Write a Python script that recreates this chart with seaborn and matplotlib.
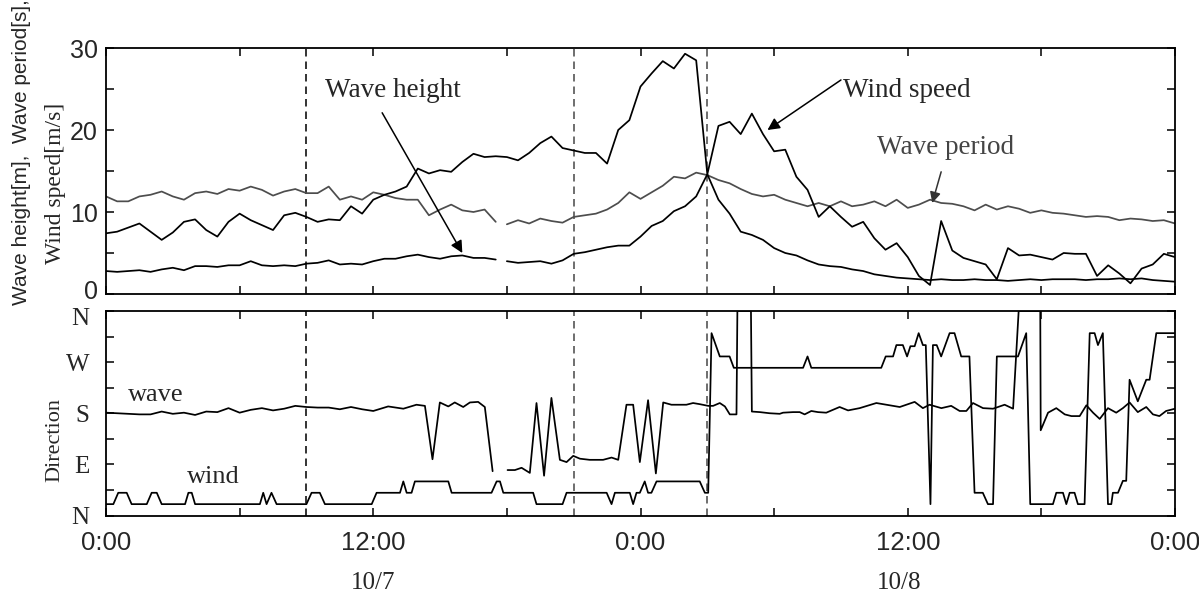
import numpy as np
import pandas as pd
import matplotlib
matplotlib.use("Agg")
import matplotlib.pyplot as plt
import seaborn as sns
from matplotlib.ticker import MultipleLocator, FixedLocator
import matplotlib.transforms as mtransforms

sns.set_theme(style="ticks")
plt.rcParams["font.family"] = ["Liberation Sans", "DejaVu Sans"]
SERIF = ["Liberation Serif", "DejaVu Serif"]
SANS = ["Liberation Sans", "DejaVu Sans"]

# ---------------- data (hours from 10/7 0:00, half-hour samples) ----------------
hours = np.arange(0, 48.01, 0.5)

wave_height = [2.8, 2.7, 2.8, 2.9, 2.7, 3.0, 3.2, 2.9, 3.4, 3.4, 3.3, 3.5, 3.5, 4.0, 3.5, 3.4,
               3.5, 3.4, 3.7, 3.8, 4.1, 3.6, 3.7, 3.6, 4.0, 4.3, 4.3, 4.6, 4.8, 4.5, 4.3, 4.6,
               4.7, 4.4, 4.4, 4.2, 4.0, 3.8, 3.9, 4.0, 3.7, 4.1, 4.9, 5.1, 5.4, 5.7, 5.9, 5.9,
               7.0, 8.3, 8.9, 10.1, 10.7, 11.9, 14.6, 11.5, 9.8, 7.6, 7.2, 6.6, 5.6, 5.0, 4.7, 4.1,
               3.6, 3.4, 3.3, 3.0, 2.8, 2.4, 2.2, 2.0, 1.9, 1.8, 1.7, 1.8, 1.7, 1.7, 1.8, 1.7,
               1.7, 1.6, 1.7, 1.8, 1.7, 1.8, 1.8, 1.8, 1.7, 1.8, 1.8, 1.9, 1.8, 1.9, 1.7, 1.6, 1.5]

wave_period = [11.9, 11.3, 11.3, 11.9, 12.1, 12.5, 11.9, 11.5, 12.3, 12.5, 12.2, 12.8, 12.6, 13.1, 12.7, 12.0,
               12.5, 12.8, 12.3, 12.3, 13.1, 11.5, 11.9, 11.5, 12.4, 12.1, 11.7, 11.5, 11.5, 9.6, 10.3, 10.9,
               10.2, 10.0, 10.3, 8.8, 8.5, 9.0, 8.6, 9.2, 8.9, 8.7, 9.4, 9.6, 9.8, 10.3, 11.1, 12.4,
               11.6, 12.4, 13.2, 14.3, 14.1, 14.8, 14.5, 13.9, 13.5, 12.8, 12.2, 11.9, 12.1, 11.5, 11.1, 10.7,
               11.1, 10.7, 11.3, 10.7, 10.9, 11.3, 10.7, 11.5, 10.5, 10.9, 11.5, 11.1, 11.0, 10.7, 10.2, 10.9,
               10.3, 10.7, 10.4, 9.9, 10.2, 9.9, 9.8, 9.6, 9.4, 9.5, 9.4, 9.0, 9.2, 9.1, 8.9, 9.0, 8.6]

wind_speed = [7.4, 7.6, 8.1, 8.6, 7.6, 6.6, 7.5, 8.8, 9.1, 7.8, 7.0, 8.8, 9.8, 9.0, 8.4, 7.8,
              9.6, 9.9, 9.4, 8.8, 9.1, 9.0, 10.7, 9.8, 11.5, 12.1, 12.5, 13.1, 15.3, 14.7, 15.1, 14.9,
              16.1, 17.1, 16.7, 16.8, 16.7, 16.3, 17.2, 18.4, 19.2, 17.8, 17.5, 17.2, 17.2, 15.9, 20.0, 21.2,
              25.3, 26.9, 28.4, 27.5, 29.3, 28.5, 14.6, 20.5, 21.0, 19.5, 22.0, 19.5, 17.4, 17.6, 14.3, 12.7,
              9.4, 10.7, 9.4, 8.2, 8.8, 6.8, 5.4, 6.2, 4.5, 2.2, 1.1, 8.9, 5.3, 4.4, 4.0, 3.6,
              1.8, 5.6, 4.7, 4.8, 4.5, 4.2, 5.0, 4.9, 4.9, 2.2, 3.5, 2.5, 1.3, 3.1, 3.6, 4.9, 4.5]

wave_gap_after = 17.6          # no wave record between ~17.5 h and 18 h

wave_dir_hours = [0, 0.5, 1, 1.5, 2, 2.5, 3, 3.5, 4, 4.5, 5, 5.5, 6, 6.5, 7, 7.5, 8, 8.5, 9, 9.5,
                  10, 10.5, 11, 11.5, 12, 12.67, 13.35, 13.94, 14.32, 14.66, 14.99, 15.37, 15.66,
                  16.04, 16.34, 16.71, 17.01, 17.36,
                  18.03, 18.36, 18.66, 19.03, 19.33, 19.67, 20.0, 20.38, 20.68, 20.98, 21.28, 21.72,
                  22.32, 22.70, 23.0, 23.37, 23.67, 23.97, 24.34, 24.69, 25.02, 25.39, 26.06, 26.36,
                  26.66, 27.04, 27.26, 27.56, 27.79, 28.01, 28.31, 28.35, 28.96, 29.0, 29.36, 29.8,
                  30.25, 30.4, 30.85, 31.15, 31.37, 31.67, 31.97, 32.34, 32.94, 33.32, 33.84, 34.59,
                  35.04, 35.64, 36.31, 36.68, 36.98, 37.51, 37.95, 38.33, 38.63, 38.93, 39.38, 39.83,
                  40.35, 40.73, 40.98, 41.95, 41.97, 42.3, 42.67, 43.05, 43.35, 43.72, 44.02, 44.32,
                  44.62, 44.99, 45.36, 45.66, 45.96, 46.33, 46.71, 47.01, 47.3, 47.6, 48.0]
wave_dir_deg = [181, 180, 179, 178, 178, 183, 179, 181, 177, 183, 182, 189, 181, 186, 189, 185, 188, 193, 191, 190,
                190, 187, 191, 187, 184, 192, 188, 195, 193, 99, 199, 192, 199,
                191, 199, 200, 191, 78,
                80, 80, 84, 75, 198, 70, 207, 98, 94, 105, 100, 98,
                98, 102, 98, 195, 195, 94, 203, 74, 199, 195, 195, 198,
                196, 193, 193, 198, 192, 178, 178, 360, 360, 183, 182, 180,
                179, 181, 182, 182, 178, 184, 182, 181, 191, 185, 189, 198,
                195, 191, 200, 189, 195, 189, 193, 184, 184, 198, 189, 188,
                195, 188, 360, 360, 150, 181, 189, 178, 175, 175, 194, 181,
                170, 189, 181, 189, 199, 182, 191, 178, 175, 184, 188]

wind_dir_hours = [0, 0.33, 0.55, 0.93, 1.15, 1.83, 2.05, 2.28, 2.5, 3.55, 3.7, 3.85, 4.0, 6.91, 7.06,
                  7.21, 7.43, 7.66, 9.0, 9.23, 9.6, 9.83, 11.93, 12.15, 13.2, 13.35, 13.5, 13.72, 13.87,
                  15.37, 15.52, 17.31, 17.54, 17.69, 17.84, 19.18, 19.33, 20.5, 20.68, 22.48, 22.7, 22.85,
                  23.52, 23.67, 23.82, 23.97, 24.19, 24.34, 24.49, 24.72, 26.66, 26.89, 27.04, 27.19,
                  27.56, 28.0, 28.19, 31.3, 31.5, 31.67, 34.81, 35.01, 35.34, 35.49, 35.78, 35.97, 36.12,
                  36.31, 36.49, 36.68, 36.81, 37.02, 37.13, 37.3, 37.5, 37.88, 38.1, 38.4, 38.77, 39.0,
                  39.37, 39.6, 39.83, 40.0, 40.95, 41.32, 41.5, 42.52, 42.67, 42.97, 43.12, 43.27, 43.49,
                  43.64, 43.94, 44.17, 44.39, 44.54, 44.76, 44.99, 45.14, 45.21, 45.44, 45.66, 45.81,
                  45.96, 46.33, 46.71, 46.86, 47.16, 47.9, 48.0]
wind_dir_deg = [20, 20, 40, 40, 20, 20, 40, 40, 20, 20, 40, 40, 20, 20, 40,
                20, 40, 20, 20, 40, 40, 20, 20, 40, 40, 60, 40, 40, 60,
                60, 40, 40, 60, 60, 40, 40, 20, 20, 40, 40, 20, 40,
                40, 20, 40, 40, 60, 40, 40, 60, 60, 40, 40, 321,
                280, 280, 260, 260, 280, 260, 260, 280, 280, 300, 300, 280, 298,
                298, 321, 300, 300, 20, 300, 300, 280, 321, 321, 280, 280, 40,
                40, 20, 20, 280, 280, 321, 20, 20, 40, 40, 20, 40, 40,
                20, 20, 321, 321, 300, 321, 20, 20, 40, 40, 61, 61,
                239, 201, 239, 239, 321, 321, 321]

event_hours = [9, 21, 27]
event_colors = ["#111111", "#555555", "#555555"]

x_tick_hours = [0, 12, 24, 36, 48]
x_tick_labels = ["0:00", "12:00", "0:00", "12:00", "0:00"]
date_labels = ["10/7", "10/8"]
date_label_hours = [12, 35.6]
dir_ticks = [0, 90, 180, 270, 360]
dir_labels = ["N", "E", "S", "W", "N"]

# ---------------- data frames ----------------
seg = (hours > wave_gap_after).astype(int)
df_top = pd.DataFrame({"h": hours, "H": wave_height, "T": wave_period,
                       "U": wind_speed, "seg": seg})
wdh = np.array(wave_dir_hours)
df_wdir = pd.DataFrame({"h": wdh, "d": wave_dir_deg, "seg": (wdh > wave_gap_after).astype(int)})
df_udir = pd.DataFrame({"h": wind_dir_hours, "d": wind_dir_deg})

# ---------------- figure ----------------
W, Hh = 1199, 597
fig = plt.figure(figsize=(W / 100, Hh / 100), dpi=100)
ax1 = fig.add_axes([106 / W, 1 - 294 / Hh, 1069 / W, 246 / Hh])
ax2 = fig.add_axes([106 / W, 1 - 515.5 / Hh, 1069 / W, 204.5 / Hh])

LW = 1.25
sns.lineplot(data=df_top, x="h", y="T", units="seg", estimator=None, color="#4d4d4d",
             lw=LW, ax=ax1, legend=False)
sns.lineplot(data=df_top, x="h", y="H", units="seg", estimator=None, color="black",
             lw=LW, ax=ax1, legend=False)
sns.lineplot(data=df_top, x="h", y="U", estimator=None, color="black",
             lw=LW, ax=ax1, legend=False)

sns.lineplot(data=df_wdir, x="h", y="d", units="seg", estimator=None, color="black",
             lw=LW, ax=ax2, legend=False)
sns.lineplot(data=df_udir, x="h", y="d", estimator=None, color="black",
             lw=LW, ax=ax2, legend=False, sort=False)

for ax in (ax1, ax2):
    for xh, c in zip(event_hours, event_colors):
        ax.axvline(xh, color=c, lw=1.2, ls=(0, (4.5, 3)), zorder=1)
    ax.set_xlim(0, 48)
    ax.set_xlabel("")
    ax.set_ylabel("")
    ax.xaxis.set_major_locator(FixedLocator(x_tick_hours))
    ax.xaxis.set_minor_locator(MultipleLocator(6))
    for sp in ax.spines.values():
        sp.set_visible(True)
        sp.set_linewidth(1.3)
        sp.set_color("black")
    ax.tick_params(which="both", direction="in", top=True, right=True,
                   length=6, width=1.1, color="black")

# top panel
ax1.set_ylim(0, 30)
ax1.set_yticks([0, 10, 20, 30])
ax1.yaxis.set_minor_locator(MultipleLocator(5))
ax1.tick_params(axis="x", labelbottom=False)
ax1.tick_params(axis="y", labelsize=18, pad=6)
for lab in ax1.get_yticklabels():
    lab.set_fontfamily(SANS)

# bottom panel
ax2.set_ylim(0, 360)
ax2.set_yticks(dir_ticks)
ax2.set_yticklabels(dir_labels, fontfamily=SERIF, fontsize=18)
ax2.yaxis.set_minor_locator(MultipleLocator(45))
ax2.tick_params(axis="y", pad=12)
ax2.set_xticks(x_tick_hours)
ax2.set_xticklabels(x_tick_labels, fontfamily=SANS, fontsize=18.5)
ax2.tick_params(axis="x", pad=11)

# keep the shared corner labels ("0" above, "N" below) apart, as in the reference
fig.canvas.draw()
lab0 = ax1.get_yticklabels()[0]
lab0.set_transform(lab0.get_transform() + mtransforms.ScaledTranslation(0, 3 / 72, fig.dpi_scale_trans))
labN = ax2.get_yticklabels()[-1]
labN.set_transform(labN.get_transform() + mtransforms.ScaledTranslation(0, -4 / 72, fig.dpi_scale_trans))

trans = mtransforms.blended_transform_factory(ax2.transData, ax2.transAxes)
for lbl, xh in zip(date_labels, date_label_hours):
    ax2.text(xh, -0.33, lbl, transform=trans, ha="center", va="center",
             fontfamily=SERIF, fontsize=18)

# axis titles
fig.text(22 / W, 1 - 152 / Hh, "Wave height[m],  Wave period[s],", rotation=90,
         ha="center", va="center", fontfamily=SANS, fontsize=15)
fig.text(55 / W, 1 - 183 / Hh, "Wind speed[m/s]", rotation=90,
         ha="center", va="center", fontfamily=SERIF, fontsize=17)
fig.text(55 / W, 1 - 440 / Hh, "Direction", rotation=90,
         ha="center", va="center", fontfamily=SERIF, fontsize=16)

# annotations
ax1.text(9.83, 24.0, "Wave height", fontfamily=SERIF, fontsize=19.5, va="baseline", ha="left")
ax1.annotate("", xy=(16.0, 5.0), xytext=(12.4, 22.1),
             arrowprops=dict(arrowstyle="-|>", color="black", lw=1.1, mutation_scale=18,
                             shrinkA=0, shrinkB=0))
ax1.text(33.08, 24.0, "Wind speed", fontfamily=SERIF, fontsize=19.5, va="baseline", ha="left")
ax1.annotate("", xy=(29.7, 20.0), xytext=(33.0, 26.1),
             arrowprops=dict(arrowstyle="-|>", color="black", lw=1.1, mutation_scale=18,
                             shrinkA=0, shrinkB=0))
ax1.text(34.6, 17.1, "Wave period", fontfamily=SERIF, fontsize=19.5, va="baseline", ha="left",
         color="#444444")
ax1.annotate("", xy=(37.1, 11.1), xytext=(37.5, 14.9),
             arrowprops=dict(arrowstyle="-|>", color="#333333", lw=1.1, mutation_scale=16,
                             shrinkA=0, shrinkB=0))

ax2.text(0.99, 201, "wave", fontfamily=SERIF, fontsize=19, va="baseline", ha="left")
ax2.text(3.64, 58, "wind", fontfamily=SERIF, fontsize=19, va="baseline", ha="left")

fig.savefig("out.png", dpi=100)
